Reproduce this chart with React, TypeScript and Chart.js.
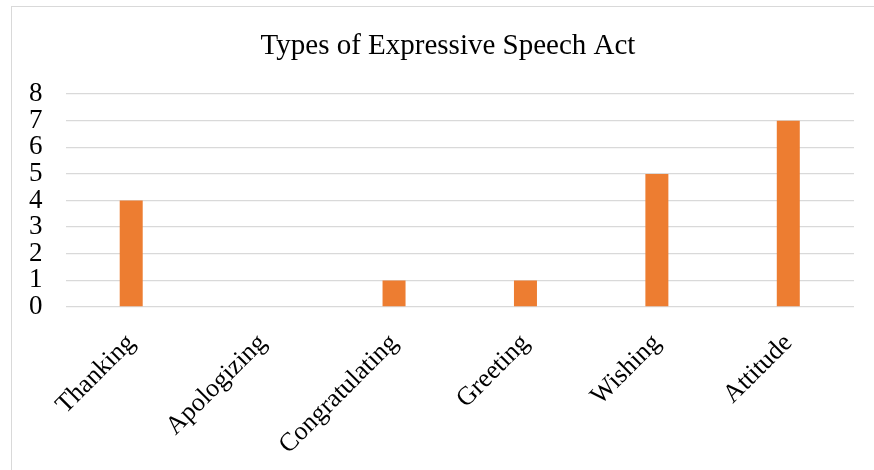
import React, { useEffect, useRef } from "react";
import { Chart, registerables } from "chart.js";

Chart.register(...registerables);

const categories = ["Thanking", "Apologizing", "Congratulating", "Greeting", "Wishing", "Attitude"];
const counts = [4, 0, 1, 1, 5, 7];
const titleText = "Types of Expressive Speech Act";
const yMin = 0;
const yMax = 8;

const titlePlugin = {
  id: "centeredTitle",
  afterDraw(chart: any) {
    const ctx = chart.ctx;
    ctx.save();
    ctx.fillStyle = "#000";
    ctx.font = "29px 'Liberation Serif'";
    ctx.textAlign = "center";
    ctx.textBaseline = "alphabetic";
    ctx.fillText(titleText, 448, 54);
    ctx.restore();
  },
};

export default function App() {
  const ref = useRef<HTMLCanvasElement | null>(null);

  useEffect(() => {
    if (!ref.current) return;
    const chart = new Chart(ref.current, {
      type: "bar",
      data: {
        labels: categories,
        datasets: [
          {
            data: counts,
            backgroundColor: "#ED7D31",
            barPercentage: 0.175,
            categoryPercentage: 1,
          },
        ],
      },
      plugins: [titlePlugin],
      options: {
        animation: false,
        responsive: false,
        devicePixelRatio: 1,
        layout: { padding: { left: 6, right: 20, top: 94, bottom: 0 } },
        plugins: {
          legend: { display: false },
          tooltip: { enabled: false },
          title: { display: false },
        },
        scales: {
          x: {
            grid: { display: false },
            border: { display: false },
            afterFit: (scale: any) => {
              scale.height = 163;
            },
            ticks: {
              color: "#000",
              font: { family: "Liberation Serif", size: 26 },
              minRotation: 45,
              maxRotation: 45,
              autoSkip: false,
              padding: 13,
            },
          },
          y: {
            min: yMin,
            max: yMax,
            grid: { color: "#d9d9d9", lineWidth: 1.3, drawTicks: false },
            border: { display: false },
            ticks: {
              stepSize: 1,
              autoSkip: false,
              color: "#000",
              font: { family: "Liberation Serif", size: 27 },
              padding: 23,
            },
          },
        },
      },
    });
    return () => chart.destroy();
  }, []);

  return (
    <div style={{ position: "absolute", left: 0, top: 0, width: 874, height: 470, background: "#fff", overflow: "hidden" }}>
      <div
        style={{
          position: "absolute",
          left: 11,
          top: 6,
          width: 880,
          height: 480,
          border: "1.5px solid #d9d9d9",
        }}
      />
      <canvas ref={ref} width={874} height={470} style={{ position: "absolute", left: 0, top: 0 }} />
    </div>
  );
}
